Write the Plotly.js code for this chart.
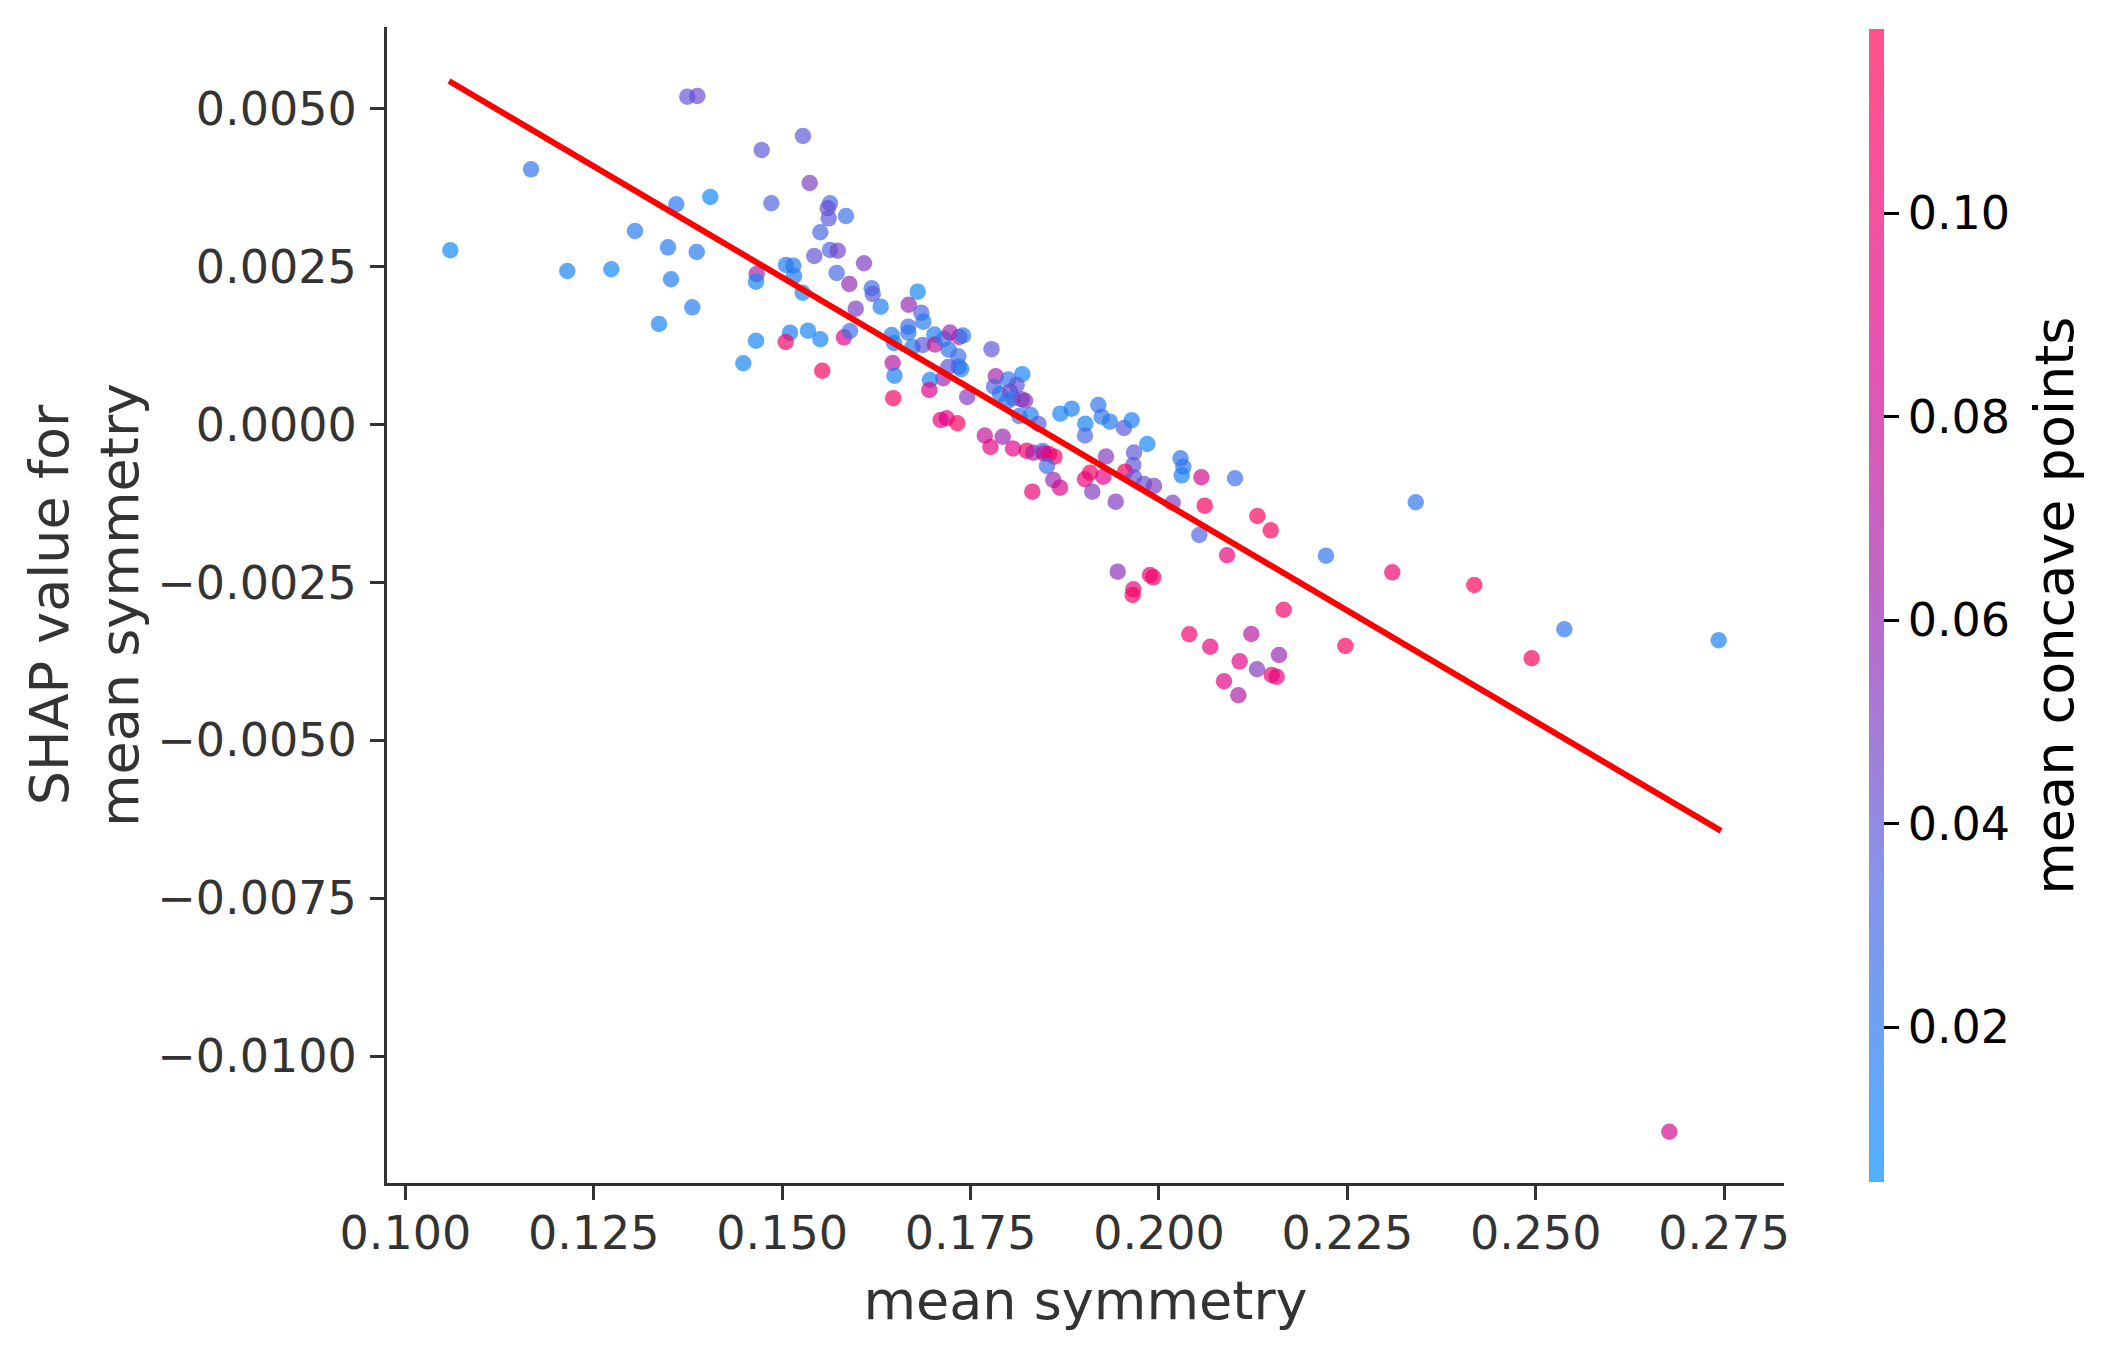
<!DOCTYPE html>
<html>
<head>
<meta charset="utf-8">
<script src="https://cdn.plot.ly/plotly-3.0.1.min.js"></script>
<style>
  html, body { margin: 0; padding: 0; background: #ffffff; }
  #chart { width: 2113px; height: 1357px; }
</style>
</head>
<body>
<div id="chart"></div>
<script>
// mean symmetry (feature value, x)
const meanSymmetry = [
  0.13741, 0.13874, 0.11667, 0.14728, 0.15276, 0.10596, 0.14046, 0.13595, 0.13047, 0.13485,
  0.13866, 0.12148, 0.12732, 0.13525, 0.13807, 0.13365, 0.14484,
  0.15365, 0.14856, 0.15634, 0.15604, 0.15617, 0.15847, 0.15506, 0.15426, 0.15634, 0.15737,
  0.16086, 0.15723, 0.15891, 0.15051, 0.15147, 0.15157, 0.14662, 0.14652, 0.15272, 0.15976,
  0.16188, 0.16201, 0.16307, 0.16798, 0.16679, 0.16846, 0.16873, 0.16674, 0.16674, 0.16453,
  0.16484, 0.14652, 0.15104, 0.15343, 0.15506, 0.15047, 0.15820, 0.15900, 0.15532, 0.16729,
  0.16865, 0.17019, 0.17028, 0.17145, 0.17227, 0.17350, 0.17399, 0.17210, 0.17337, 0.17342,
  0.17375, 0.17204, 0.17138, 0.16961, 0.16952, 0.16466, 0.16490, 0.16474, 0.17455, 0.17778,
  0.17835, 0.17811, 0.18001, 0.18186, 0.17103, 0.17183, 0.17324, 0.17689, 0.17764,
  0.18112, 0.17890, 0.18023, 0.18067, 0.17979, 0.18178, 0.18222, 0.18147, 0.18298, 0.18399,
  0.18691, 0.18842, 0.19022, 0.19018, 0.19195, 0.19240, 0.19350, 0.19536, 0.19638, 0.19845,
  0.19297, 0.19669, 0.19659, 0.20286, 0.17926, 0.18063, 0.18245, 0.18332, 0.18457, 0.18474,
  0.18541, 0.18614, 0.18514,
  0.18598, 0.18687, 0.18319, 0.19085, 0.19018, 0.19261, 0.19115, 0.19426, 0.19549, 0.19669,
  0.19801, 0.19934, 0.20182, 0.20323, 0.20302,
  0.20562, 0.21009, 0.20607, 0.20535, 0.21305, 0.21483, 0.20903, 0.22216, 0.19452, 0.19881,
  0.19925, 0.19659, 0.19651, 0.21655, 0.20402, 0.20681, 0.21225, 0.21593, 0.21071, 0.21301,
  0.21496, 0.21562, 0.20863, 0.21053,
  0.23407, 0.23096, 0.24184, 0.22473, 0.24946, 0.25379, 0.27427, 0.26772
];

// SHAP value for mean symmetry (y)
const shapValue = [
  0.005192, 0.005203, 0.004042, 0.004348, 0.004569, 0.002760, 0.003604, 0.003488, 0.003065, 0.002807,
  0.002733, 0.002432, 0.002459, 0.002301, 0.001857, 0.001593, 0.000971,
  0.003825, 0.003504, 0.003504, 0.003425, 0.003266, 0.003303, 0.003045, 0.002669, 0.002764, 0.002753,
  0.002554, 0.002400, 0.002226, 0.002527, 0.002516, 0.002353, 0.002384, 0.002263, 0.002088, 0.001835,
  0.002158, 0.002068, 0.001867, 0.002104, 0.001898, 0.001772, 0.001629, 0.001550, 0.001455, 0.001419,
  0.001292, 0.001328, 0.001455, 0.001487, 0.001351, 0.001308, 0.001382, 0.001482, 0.000853, 0.001229,
  0.001260, 0.001427, 0.001268, 0.001358, 0.001458, 0.001387, 0.001411, 0.001186, 0.001081, 0.000917,
  0.000877, 0.000912, 0.000733, 0.000706, 0.000548, 0.000975, 0.000774, 0.000418, 0.000437, 0.001194,
  0.000765, 0.000600, 0.000714, 0.000798, 0.000073, 0.000100, 0.000021, -0.000173, -0.000355,
  0.000627, 0.000484, 0.000521, 0.000416, 0.000363, 0.000401, 0.000378, 0.000136, 0.000152, 0.000010,
  0.000173, 0.000252, 0.000014, -0.000173, 0.000310, 0.000125, 0.000046, -0.000054, 0.000068, -0.000307,
  -0.000505, -0.000442, -0.000640, -0.000534, -0.000192, -0.000378, -0.000413, -0.000445, -0.000418, -0.000458,
  -0.000465, -0.000508, -0.000655,
  -0.000877, -0.000999, -0.001062, -0.000762, -0.000866, -0.000825, -0.001062, -0.001221, -0.000746, -0.000834,
  -0.000940, -0.000972, -0.001237, -0.000667, -0.000803,
  -0.000834, -0.000850, -0.001284, -0.001748, -0.001447, -0.001674, -0.002069, -0.002076, -0.002329, -0.002381,
  -0.002418, -0.002608, -0.002698, -0.002931, -0.003320, -0.003517, -0.003315, -0.003648, -0.003748, -0.003874,
  -0.003965, -0.003992, -0.004064, -0.004286,
  -0.001230, -0.002339, -0.002540, -0.003505, -0.003700, -0.003241, -0.003415, -0.011196
];

// mean concave points (colour)
const meanConcavePoints = [
  0.039, 0.044, 0.022, 0.039, 0.039, 0.010, 0.010, 0.018, 0.018, 0.018,
  0.018, 0.012, 0.010, 0.016, 0.016, 0.012, 0.011,
  0.050, 0.033, 0.027, 0.044, 0.039, 0.025, 0.030, 0.041, 0.033, 0.048,
  0.052, 0.030, 0.059, 0.016, 0.018, 0.016, 0.061, 0.012, 0.012, 0.050,
  0.027, 0.037, 0.014, 0.010, 0.061, 0.033, 0.018, 0.027, 0.022, 0.016,
  0.014, 0.012, 0.014, 0.011, 0.012, 0.107, 0.090, 0.027, 0.112, 0.014,
  0.039, 0.014, 0.078, 0.022, 0.061, 0.067, 0.016, 0.022, 0.027, 0.022,
  0.018, 0.039, 0.061, 0.014, 0.090, 0.073, 0.014, 0.112, 0.052, 0.039,
  0.064, 0.033, 0.022, 0.012, 0.095, 0.090, 0.112, 0.078, 0.093,
  0.039, 0.022, 0.044, 0.027, 0.022, 0.048, 0.056, 0.022, 0.014, 0.037,
  0.012, 0.014, 0.012, 0.033, 0.022, 0.022, 0.016, 0.039, 0.014, 0.011,
  0.052, 0.039, 0.039, 0.022, 0.061, 0.090, 0.109, 0.067, 0.027, 0.082,
  0.095, 0.109, 0.027,
  0.061, 0.086, 0.101, 0.109, 0.101, 0.090, 0.052, 0.052, 0.109, 0.039,
  0.042, 0.050, 0.050, 0.022, 0.014,
  0.084, 0.027, 0.112, 0.033, 0.112, 0.112, 0.095, 0.022, 0.056, 0.101,
  0.107, 0.095, 0.112, 0.107, 0.104, 0.095, 0.073, 0.061, 0.090, 0.052,
  0.101, 0.095, 0.090, 0.067,
  0.022, 0.104, 0.115, 0.112, 0.112, 0.022, 0.014, 0.084
];

// fitted trend line end points
const trendX = [0.10579, 0.27458];
const trendY = [0.005440, -0.006434];

// tick values
const xTicks = [0.100, 0.125, 0.150, 0.175, 0.200, 0.225, 0.250, 0.275];
const yTicks = [0.0050, 0.0025, 0.0, -0.0025, -0.0050, -0.0075, -0.0100];
const cTicks = [0.02, 0.04, 0.06, 0.08, 0.10];

const A = 0.68;
const redBlue = [
  [0.00, `rgba(0,139,251,${A})`],
  [0.25, `rgba(75,99,227,${A})`],
  [0.50, `rgba(155,35,173,${A})`],
  [0.75, `rgba(224,0,134,${A})`],
  [1.00, `rgba(255,0,81,${A})`]
];

const FONT = 'DejaVu Sans, sans-serif';

const traces = [
  {
    type: 'scatter',
    mode: 'markers',
    x: meanSymmetry,
    y: shapValue,
    marker: {
      size: 16.5,
      color: meanConcavePoints,
      colorscale: redBlue,
      cmin: 0.0048,
      cmax: 0.1181,
      line: { width: 0 },
      showscale: true,
      colorbar: {
        thickness: 15,
        thicknessmode: 'pixels',
        len: 1153,
        lenmode: 'pixels',
        x: 1.0609,
        xanchor: 'left',
        y: 0.4996,
        yanchor: 'middle',
        xpad: 0,
        ypad: 0,
        outlinewidth: 0,
        ticks: 'outside',
        ticklen: 15,
        tickwidth: 3,
        tickcolor: '#000000',
        tickvals: cTicks,
        tickformat: '.2f',
        tickfont: { family: FONT, size: 46, color: '#000000' }
      }
    },
    hoverinfo: 'skip'
  },
  {
    type: 'scatter',
    mode: 'lines',
    x: trendX,
    y: trendY,
    line: { color: '#ff0000', width: 6 },
    hoverinfo: 'skip'
  }
];

const layout = {
  width: 2113,
  height: 1357,
  margin: { l: 387, r: 329, t: 27, b: 174, pad: 0 },
  paper_bgcolor: '#ffffff',
  plot_bgcolor: '#ffffff',
  showlegend: false,
  font: { family: FONT, color: '#333333' },
  xaxis: {
    range: [0.09756, 0.28294],
    showgrid: false,
    zeroline: false,
    showline: true,
    linecolor: '#333333',
    linewidth: 3,
    ticks: 'outside',
    ticklen: 14,
    tickwidth: 3,
    tickcolor: '#333333',
    tickvals: xTicks,
    tickformat: '.3f',
    ticklabelstandoff: -6,
    tickfont: { family: FONT, size: 46, color: '#333333' },
    title: { text: 'mean symmetry', font: { family: FONT, size: 54, color: '#333333' }, standoff: 22 }
  },
  yaxis: {
    range: [-0.012008, 0.006295],
    showgrid: false,
    zeroline: false,
    showline: true,
    linecolor: '#333333',
    linewidth: 3,
    ticks: 'outside',
    ticklen: 14,
    tickwidth: 3,
    tickcolor: '#333333',
    tickvals: yTicks,
    tickformat: '.4f',
    ticklabelstandoff: 4,
    tickfont: { family: FONT, size: 46, color: '#333333' },
    title: { text: 'SHAP value for<br>mean symmetry', font: { family: FONT, size: 54, color: '#333333' }, standoff: 2 }
  },
  annotations: [
    {
      text: 'mean concave points',
      xref: 'paper', yref: 'paper',
      x: 1.1935, y: 0.4996,
      xanchor: 'center', yanchor: 'middle',
      textangle: -90,
      showarrow: false,
      font: { family: FONT, size: 54, color: '#000000' }
    }
  ]
};

Plotly.newPlot('chart', traces, layout, { displayModeBar: false, staticPlot: true });
</script>
</body>
</html>
